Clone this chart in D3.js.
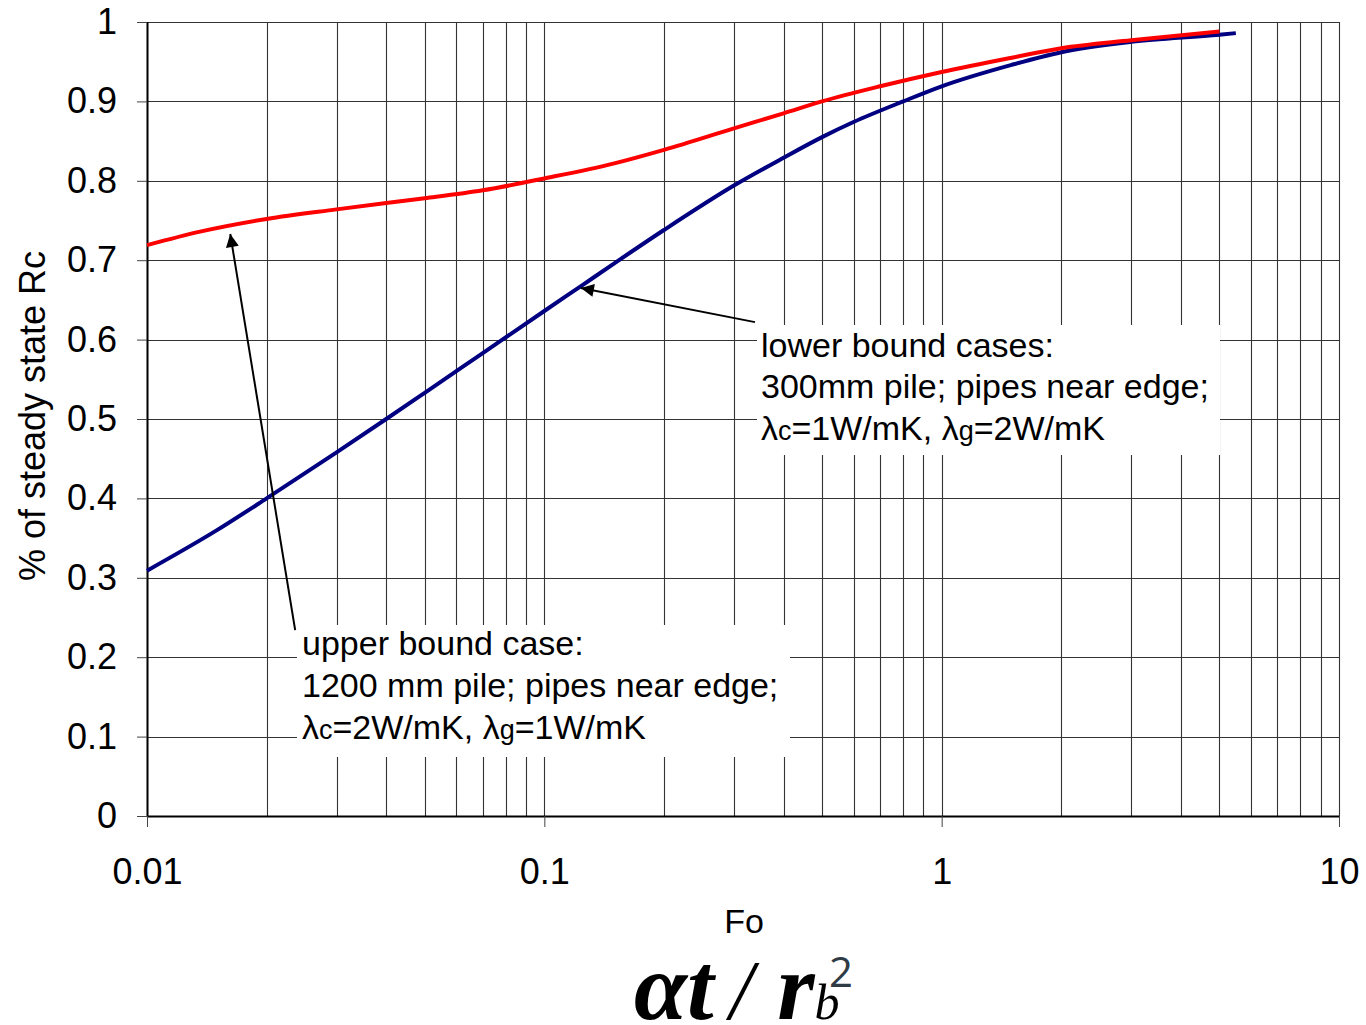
<!DOCTYPE html>
<html><head><meta charset="utf-8">
<script src="https://cdn.jsdelivr.net/npm/d3@7"></script>
<style>
html,body{margin:0;padding:0;background:#fff;}
svg{display:block;}
</style></head>
<body>
<script>
// ---- data ----
const upperFo  = [0.01, 0.0136, 0.02, 0.03, 0.04, 0.05, 0.07, 0.1, 0.15, 0.2, 0.3, 0.4, 0.5, 0.7, 1, 1.5, 2, 3, 5];
const upperVal = [0.719, 0.736, 0.752, 0.764, 0.772, 0.778, 0.788, 0.803, 0.822, 0.839, 0.866, 0.885, 0.900, 0.919, 0.937, 0.955, 0.967, 0.977, 0.988];
const lowerFo  = [0.01, 0.015, 0.02, 0.03, 0.04, 0.05, 0.07, 0.1, 0.125, 0.15, 0.2, 0.3, 0.4, 0.5, 0.6, 0.8, 1, 1.5, 2, 3, 5, 5.5];
const lowerVal = [0.309, 0.360, 0.40, 0.458, 0.500, 0.533, 0.583, 0.636, 0.669, 0.696, 0.738, 0.794, 0.829, 0.855, 0.874, 0.900, 0.919, 0.946, 0.962, 0.975, 0.984, 0.986];
const xTickValues = [0.01, 0.1, 1, 10];
const xTickLabels = ["0.01", "0.1", "1", "10"];
const yTickValues = [0, 0.1, 0.2, 0.3, 0.4, 0.5, 0.6, 0.7, 0.8, 0.9, 1];
const yTickLabels = ["0", "0.1", "0.2", "0.3", "0.4", "0.5", "0.6", "0.7", "0.8", "0.9", "1"];
const yTitle = "% of steady state Rc";
const xTitle = "Fo";
// annotations: arrow from [Fo,val] to tip [Fo,val]
const upperArrow = {from: [0.0236, 0.234], to: [0.0162, 0.733]};
const lowerArrow = {from: [0.339, 0.622], to: [0.1236, 0.665]};

// ---- layout ----
const SANS = "'Liberation Sans',Arial,sans-serif";
const SERIF = "'Liberation Serif','Times New Roman',serif";
const W = 1366, H = 1025;
const m = {left: 147, top: 22, right: 1366 - 1339, bottom: 1025 - 816};
const iw = W - m.left - m.right, ih = H - m.top - m.bottom;

const svg = d3.select("body").append("svg").attr("width", W).attr("height", H)
  .style("font-family", SANS);
const defs = svg.append("defs");
defs.append("marker").attr("id", "ah").attr("viewBox", "0 0 10 10")
  .attr("refX", 10).attr("refY", 5).attr("markerWidth", 16).attr("markerHeight", 13)
  .attr("markerUnits", "userSpaceOnUse").attr("orient", "auto")
  .append("path").attr("d", "M0,0 L10,5 L0,10 z").attr("fill", "#000");

const g = svg.append("g").attr("transform", `translate(${m.left},${m.top})`);
const x = d3.scaleLog().domain([0.01, 10]).range([0, iw]);
const y = d3.scaleLinear().domain([0, 1]).range([ih, 0]);

// minor grid values
const gridX = [];
[0.01, 0.1, 1].forEach(d => { for (let k = 1; k < 10; k++) gridX.push(+(d * k).toPrecision(3)); });
gridX.push(10);

g.append("g").selectAll("line").data(gridX).join("line")
  .attr("x1", d => Math.round(x(d)) + 0.5).attr("x2", d => Math.round(x(d)) + 0.5)
  .attr("y1", 0).attr("y2", ih).attr("stroke", "#333").attr("stroke-width", 1.1);
g.append("g").selectAll("line").data(yTickValues).join("line")
  .attr("x1", 0).attr("x2", iw)
  .attr("y1", d => Math.round(y(d)) + 0.5).attr("y2", d => Math.round(y(d)) + 0.5)
  .attr("stroke", "#333").attr("stroke-width", 1.1);

// axes
const yAxis = d3.axisLeft(y).tickValues(yTickValues).tickFormat((d, i) => yTickLabels[i])
  .tickSize(10).tickPadding(20);
const ya = g.append("g").call(yAxis);
ya.select(".domain").attr("stroke", "#000").attr("stroke-width", 2).attr("d", `M0.5,0V${ih}`);
ya.selectAll(".tick line").attr("stroke", "#444");
ya.selectAll("text").attr("font-size", 36).attr("fill", "#000").attr("font-family", SANS);

const xAxis = d3.axisBottom(x).tickValues(xTickValues).tickFormat((d, i) => xTickLabels[i])
  .tickSize(11).tickPadding(31);
const xa = g.append("g").attr("transform", `translate(0,${ih})`).call(xAxis);
xa.select(".domain").attr("stroke", "#000").attr("stroke-width", 2).attr("d", `M0,0.5H${iw}`);
xa.selectAll(".tick line").attr("stroke", "#444");
xa.selectAll("text").attr("font-size", 36).attr("fill", "#000").attr("font-family", SANS);

// lines
const line = d3.line().x(d => x(d[0])).y(d => y(d[1])).curve(d3.curveMonotoneX);
g.append("path").datum(lowerFo.map((f, i) => [f, lowerVal[i]]))
  .attr("d", line).attr("fill", "none").attr("stroke", "#000080").attr("stroke-width", 4);
g.append("path").datum(upperFo.map((f, i) => [f, upperVal[i]]))
  .attr("d", line).attr("fill", "none").attr("stroke", "#ff0000").attr("stroke-width", 4);

// annotation boxes
function box(x0, y0, x1, y1, lines, tx, baselines) {
  g.append("rect").attr("x", x0 - m.left).attr("y", y0 - m.top)
    .attr("width", x1 - x0).attr("height", y1 - y0).attr("fill", "#fff");
  lines.forEach((parts, i) => {
    const t = g.append("text").attr("x", tx - m.left).attr("y", baselines[i] - m.top)
      .attr("font-size", 34).attr("fill", "#000");
    parts.forEach(p => {
      const s = t.append("tspan").text(p.t);
      if (p.small) s.attr("font-size", 27);
    });
  });
}
box(757, 325, 1220, 455, [
  [{t: "lower bound cases:"}],
  [{t: "300mm pile; pipes near edge;"}],
  [{t: "λ"}, {t: "c", small: true}, {t: "=1W/mK, λ"}, {t: "g", small: true}, {t: "=2W/mK"}]
], 761, [357, 398, 440]);
box(297, 625, 790, 757, [
  [{t: "upper bound case:"}],
  [{t: "1200 mm pile; pipes near edge;"}],
  [{t: "λ"}, {t: "c", small: true}, {t: "=2W/mK, λ"}, {t: "g", small: true}, {t: "=1W/mK"}]
], 302, [655, 697, 739]);

// arrows
[upperArrow, lowerArrow].forEach(a => {
  g.append("line").attr("x1", x(a.from[0])).attr("y1", y(a.from[1]))
    .attr("x2", x(a.to[0])).attr("y2", y(a.to[1]))
    .attr("stroke", "#000").attr("stroke-width", 2).attr("marker-end", "url(#ah)");
});

// titles
svg.append("text").attr("transform", `translate(45,${m.top + ih / 2 - 3}) rotate(-90)`)
  .attr("text-anchor", "middle").attr("font-size", 36).attr("fill", "#000").text(yTitle);
svg.append("text").attr("x", 744).attr("y", 933).attr("text-anchor", "middle")
  .attr("font-size", 34).attr("fill", "#000").text(xTitle);

// formula
const f = svg.append("text").attr("x", 634).attr("y", 1019)
  .style("font-family", SERIF).attr("fill", "#000");
f.append("tspan").attr("font-size", 96).attr("font-style", "italic").attr("font-weight", "bold").text("αt");
f.append("tspan").attr("font-size", 84).attr("font-style", "italic").attr("dx", 16).text("/");
f.append("tspan").attr("font-size", 96).attr("font-style", "italic").attr("font-weight", "bold").attr("dx", 24).text("r");
f.append("tspan").attr("font-size", 50).attr("font-style", "italic").text("b");
svg.append("text").attr("x", 829).attr("y", 987).attr("font-size", 42)
  .style("font-family", "'Open Sans','Liberation Sans',sans-serif").attr("fill", "#2f3b45").text("2");
</script>
</body></html>
